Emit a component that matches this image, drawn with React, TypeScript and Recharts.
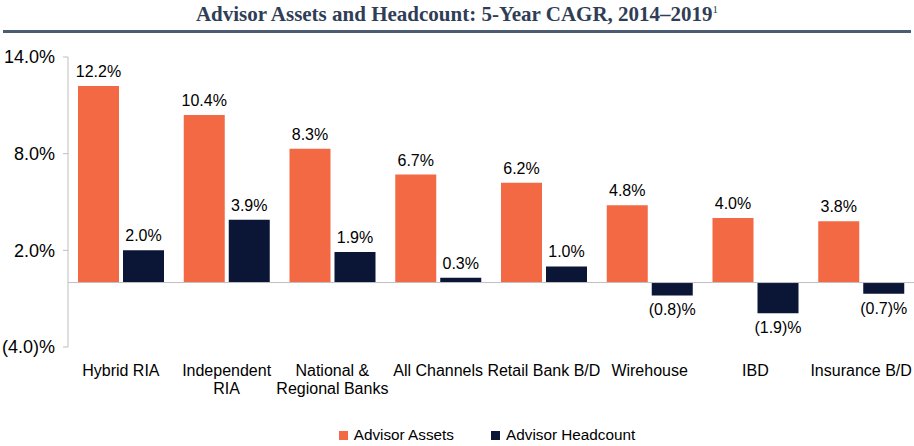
import React from 'react';
import { BarChart, Bar, XAxis, YAxis, ReferenceLine, Legend, LabelList } from 'recharts';

const categories = [
  'Hybrid RIA',
  'Independent\nRIA',
  'National &\nRegional Banks',
  'All Channels',
  'Retail Bank B/D',
  'Wirehouse',
  'IBD',
  'Insurance B/D',
];
const advisorAssets = [12.2, 10.4, 8.3, 6.7, 6.2, 4.8, 4.0, 3.8];
const advisorHeadcount = [2.0, 3.9, 1.9, 0.3, 1.0, -0.8, -1.9, -0.7];
const yTicks = [-4, 2, 8, 14];
const seriesNames = ['Advisor Assets', 'Advisor Headcount'];

const ORANGE = '#F26944';
const NAVY = '#0B1637';
const FONT = '"Liberation Sans", Arial, sans-serif';

const data = categories.map((name, i) => ({
  name,
  assets: advisorAssets[i],
  headcount: advisorHeadcount[i],
}));

const fmt = (v: number) => (v < 0 ? `(${Math.abs(v).toFixed(1)})%` : `${v.toFixed(1)}%`);

const ValueLabel = (props: any) => {
  const { x, y, width, height, value } = props;
  const top = Math.min(y, y + height);
  const bottom = Math.max(y, y + height);
  const cx = x + width / 2;
  const ty = value >= 0 ? top - 9 : bottom + 20;
  return (
    <text x={cx} y={ty} textAnchor="middle" fill="#000" fontSize={16} fontFamily={FONT}>
      {fmt(value)}
    </text>
  );
};

const CategoryTick = (props: any) => {
  const { x, y, payload } = props;
  const lines = String(payload.value).split('\n');
  return (
    <text x={x} y={y} textAnchor="middle" fill="#000" fontSize={16} fontFamily={FONT}>
      {lines.map((l, i) => (
        <tspan key={i} x={x} dy={i === 0 ? 21 : 18}>
          {l}
        </tspan>
      ))}
    </text>
  );
};

const LegendContent = () => (
  <div style={{ height: 30, display: 'flex', justifyContent: 'center', alignItems: 'flex-end', paddingLeft: 60, fontFamily: FONT, fontSize: 15.3, color: '#000' }}>
    {[ORANGE, NAVY].map((c, i) => (
      <div key={i} style={{ display: 'flex', alignItems: 'center', marginLeft: i === 0 ? 0 : 37, marginBottom: 2 }}>
        <span style={{ display: 'inline-block', width: 9, height: 9, background: c, marginRight: 6 }} />
        <span>{seriesNames[i]}</span>
      </div>
    ))}
  </div>
);

export default function App() {
  return (
    <div style={{ position: 'absolute', left: 0, top: 0, width: 914, height: 446, background: '#fff' }}>
      <div
        style={{
          position: 'absolute',
          left: 0,
          top: 2,
          width: 914,
          textAlign: 'center',
          fontFamily: '"Liberation Serif", "Times New Roman", serif',
          fontWeight: 'bold',
          fontSize: 21,
          color: '#2F3E56',
        }}
      >
        Advisor Assets and Headcount: 5-Year CAGR, 2014–2019
        <sup style={{ fontSize: 11, fontWeight: 'normal' }}>1</sup>
      </div>
      <div style={{ position: 'absolute', left: 3, top: 30, width: 908, height: 3, background: '#4C5C72' }} />
      <div style={{ position: 'absolute', left: 0, top: 0 }}>
        <BarChart
          width={914}
          height={446}
          data={data}
          margin={{ top: 57, right: 0, left: 0, bottom: 0 }}
          barCategoryGap={10}
          barGap={4}
        >
          <XAxis dataKey="name" axisLine={false} tickLine={false} height={69} interval={0} tick={<CategoryTick />} />
          <YAxis
            width={68}
            domain={[-4, 14]}
            ticks={yTicks}
            interval={0}
            tickFormatter={fmt}
            stroke="#BFBFBF"
            tickSize={5}
            tickMargin={8}
            tick={{ fill: '#000', fontSize: 18, fontFamily: FONT }}
          />
          <ReferenceLine y={0} stroke="#BFBFBF" strokeWidth={1} />
          <Legend verticalAlign="bottom" content={<LegendContent />} />
          <Bar dataKey="assets" fill={ORANGE} isAnimationActive={false}>
            <LabelList dataKey="assets" content={<ValueLabel />} />
          </Bar>
          <Bar dataKey="headcount" fill={NAVY} isAnimationActive={false}>
            <LabelList dataKey="headcount" content={<ValueLabel />} />
          </Bar>
        </BarChart>
      </div>
    </div>
  );
}
